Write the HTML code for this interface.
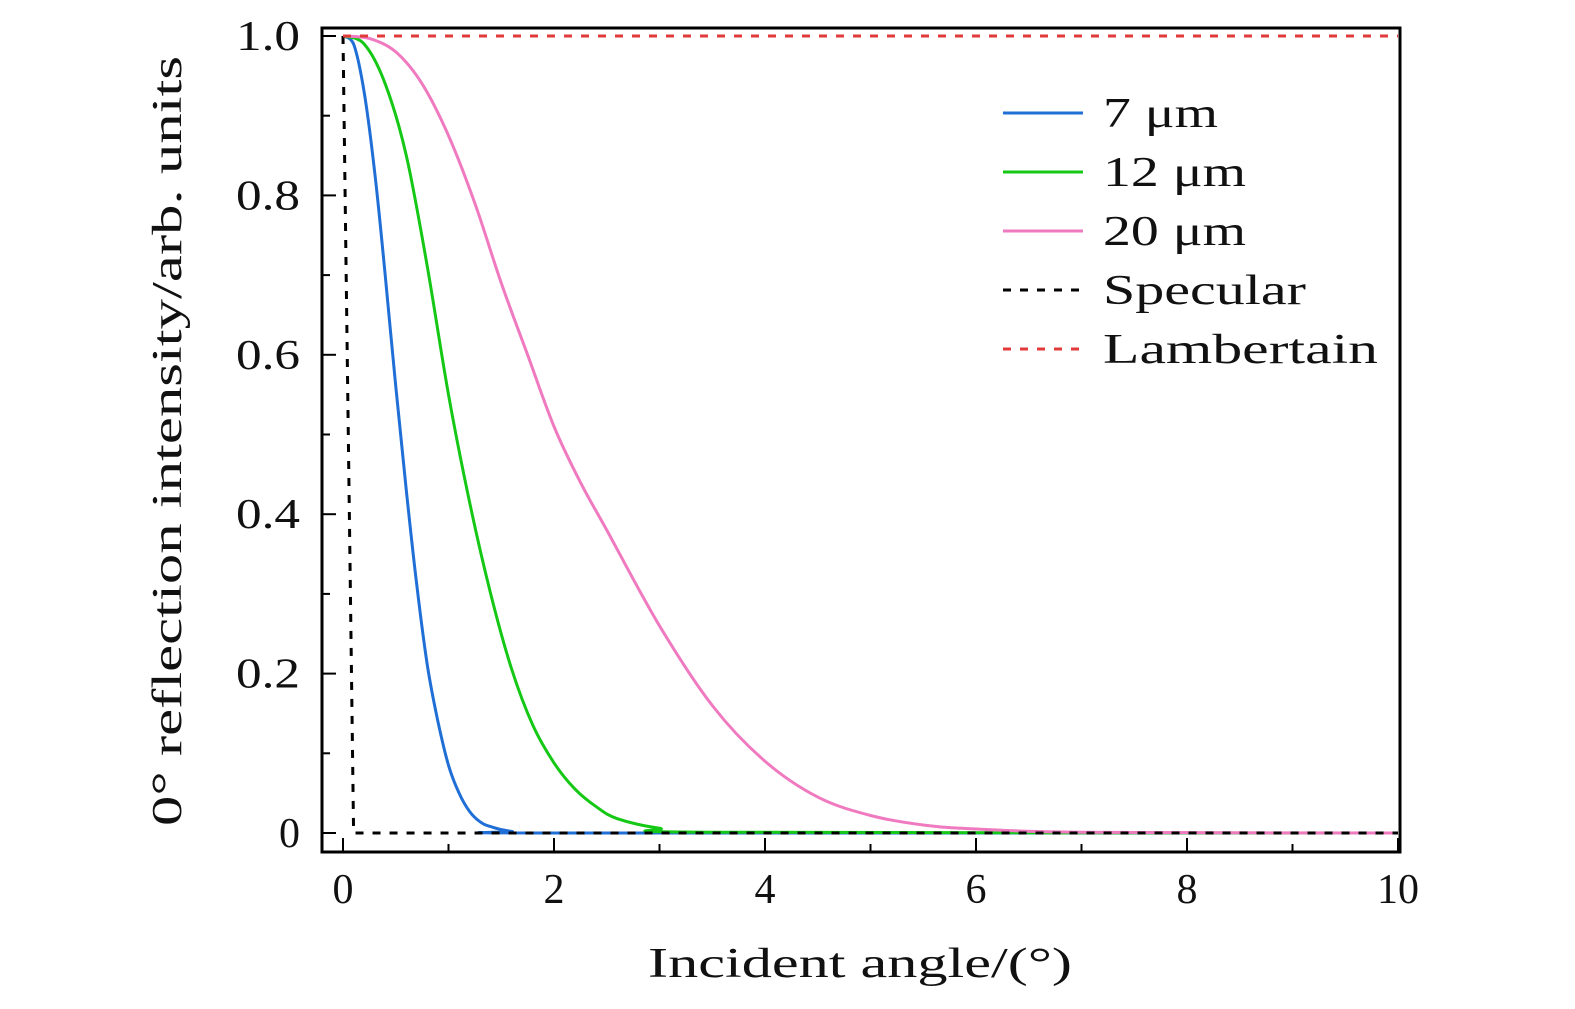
<!DOCTYPE html>
<html><head><meta charset="utf-8"><style>
body{margin:0;background:#fff}
svg text{font-family:"Liberation Serif",serif;fill:#111}
</style></head><body>
<svg width="1575" height="1004">
<g id="plot"></g>
<g id="axes"></g>
<g id="legend"></g>
<text x="648" y="977" font-size="42" textLength="424" lengthAdjust="spacingAndGlyphs">Incident angle/(°)</text>
<text transform="translate(181,826) rotate(-90)" font-size="42" textLength="770" lengthAdjust="spacingAndGlyphs">0° reflection intensity/arb. units</text>
</svg>
<script>
const xTicks=[0,2,4,6,8,10];
const yTicks=[0,0.2,0.4,0.6,0.8,1.0];
const yTickLabels=["0","0.2","0.4","0.6","0.8","1.0"];
const x7=[0,0.1,0.2,0.3,0.4,0.5,0.6,0.7,0.8,0.9,1.0,1.1,1.2,1.3,1.4,1.6,2,10];
const y7=[1,0.99,0.93,0.83,0.7,0.56,0.43,0.31,0.21,0.14,0.085,0.05,0.027,0.014,0.008,0.002,0,0];
const x12=[0,0.2,0.4,0.6,0.8,1.0,1.2,1.4,1.6,1.8,2.0,2.2,2.4,2.6,3,3.5,10];
const y12=[1,0.99,0.94,0.85,0.71,0.55,0.415,0.3,0.205,0.135,0.088,0.055,0.033,0.018,0.006,0.001,0];
const x20=[0,0.25,0.5,0.75,1,1.25,1.5,1.75,2,2.25,2.5,3,3.5,4,4.5,5,5.5,6,7,10];
const y20=[1,0.997,0.98,0.94,0.875,0.79,0.69,0.6,0.51,0.44,0.38,0.26,0.16,0.09,0.045,0.022,0.01,0.005,0.001,0];
const xSpec=[0,0.1,10];
const ySpec=[1,0,0];
const xLam=[0,10];
const yLam=[1,1];
const legendLabels=["7 μm","12 μm","20 μm","Specular","Lambertain"];
const legendLens=[115,143,143,203,275];
const X=v=>343+v*105.5, Y=v=>833-v*797;
const ns="http://www.w3.org/2000/svg";
function mk(t,a,p){const e=document.createElementNS(ns,t);for(const k in a)e.setAttribute(k,a[k]);p.appendChild(e);return e;}
function smooth(xs,ys){
 const P=xs.map((v,i)=>[X(v),Y(ys[i])]);
 let d='M'+P[0][0].toFixed(1)+','+P[0][1].toFixed(1);
 for(let i=0;i<P.length-1;i++){
  const p0=P[Math.max(0,i-1)],p1=P[i],p2=P[i+1],p3=P[Math.min(P.length-1,i+2)];
  let c1=[p1[0]+(p2[0]-p0[0])/6,p1[1]+(p2[1]-p0[1])/6];
  let c2=[p2[0]-(p3[0]-p1[0])/6,p2[1]-(p3[1]-p1[1])/6];
  const lo=Math.min(p1[1],p2[1]),hi=Math.max(p1[1],p2[1]);
  c1[1]=Math.min(hi,Math.max(lo,c1[1]));c2[1]=Math.min(hi,Math.max(lo,c2[1]));
  d+='C'+c1.map(v=>v.toFixed(1))+' '+c2.map(v=>v.toFixed(1))+' '+p2.map(v=>v.toFixed(1));
 }
 return d;
}
const plot=document.getElementById('plot'),axes=document.getElementById('axes'),leg=document.getElementById('legend');
const series=[[x7,y7,'#1f6fd6','',1],[x12,y12,'#16c816','',1],[x20,y20,'#f07ac0','',1],[xSpec,ySpec,'#000','8,9',0],[xLam,yLam,'#e03a3a','8,9',0]];
const names=['line-7um','line-12um','line-20um','line-specular','line-lambertain'];
series.forEach((s,i)=>{
 const d=s[4]?smooth(s[0],s[1]):s[0].map((v,j)=>(j?'L':'M')+X(v).toFixed(1)+','+Y(s[1][j]).toFixed(1)).join('');
 const p=mk('path',{d:d,fill:'none',stroke:s[2],'stroke-width':3,'stroke-dasharray':s[3],'stroke-linejoin':'round'},plot);
 
 
 const ly=113+i*59;
 const l=mk('line',{x1:1003,x2:1083,y1:ly,y2:ly,stroke:s[2],'stroke-width':3,'stroke-dasharray':s[3]},leg);
 
 
 const t=mk('text',{x:1103,y:ly+14,'font-size':42,textLength:legendLens[i],lengthAdjust:'spacingAndGlyphs'},leg);t.textContent=legendLabels[i];
 
 
});
const fr=mk('rect',{x:322,y:28,width:1078,height:824,fill:'none',stroke:'#000','stroke-width':3},axes);


for(let v=0;v<=10;v+=1){const maj=v%2==0;mk('line',{x1:X(v),x2:X(v),y1:852,y2:852-(maj?14:8),stroke:'#000','stroke-width':2},axes);}
xTicks.forEach(v=>{const t=mk('text',{x:X(v),y:903,'font-size':42,'text-anchor':'middle'},axes);t.textContent=v;
 
 });
for(let k=0;k<=10;k++){const v=k/10,maj=k%2==0;mk('line',{x1:322,x2:322+(maj?14:8),y1:Y(v),y2:Y(v),stroke:'#000','stroke-width':2},axes);}
yTicks.forEach((v,i)=>{const a={x:300,y:Y(v)+14,'font-size':42,'text-anchor':'end'};if(i>0){a.textLength=64;a.lengthAdjust='spacingAndGlyphs';}
 const t=mk('text',a,axes);t.textContent=yTickLabels[i];
 
 });
</script>
</body></html>
